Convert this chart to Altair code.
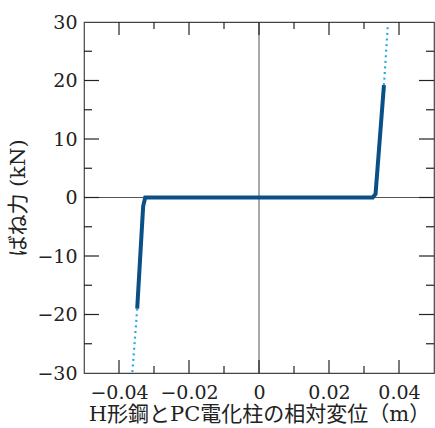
import altair as alt
import pandas as pd

# --- data ---
spring_x = [-0.0348, -0.0331, -0.0325, 0.0000, 0.0325, 0.0333, 0.0357]
spring_y = [-19.0, -1.5, 0.0, 0.0, 0.0, 0.6, 19.2]

ext_series = ["neg", "neg", "pos", "pos"]
ext_x = [-0.0348, -0.0362, 0.0357, 0.0368]
ext_y = [-19.0, -30.0, 19.2, 29.3]

x_major = [-0.04, -0.02, 0.0, 0.02, 0.04]
x_minor = [-0.03, -0.01, 0.01, 0.03]
y_major = [-20, -10, 0, 10, 20]
y_minor = [-25, -15, -5, 5, 15, 25]
y_labels = [-30, -20, -10, 0, 10, 20, 30]

x_title = "H形鋼とPC電化柱の相対変位（m）"
y_title = "ばね力 (kN)"

W, H = 350, 351
FONT = "DejaVu Serif, Noto Sans CJK JP"

spring = pd.DataFrame({"x": spring_x, "y": spring_y, "o": range(len(spring_x))})
ext = pd.DataFrame({"s": ext_series, "x": ext_x, "y": ext_y, "o": range(len(ext_x))})

xs = alt.Scale(domain=[-0.05, 0.05], nice=False, zero=False)
ys = alt.Scale(domain=[-30, 30], nice=False, zero=False)

xaxis = alt.Axis(values=x_major, format="~g", ticks=False, domain=False, grid=False,
                 labelPadding=10, title=x_title, titlePadding=1)
yaxis = alt.Axis(values=y_labels, format="~g", ticks=False, domain=False, grid=False,
                 labelPadding=7, title=y_title, titlePadding=8)

base = alt.Chart(spring).mark_line(color="#0a4f86", strokeWidth=4, clip=True).encode(
    x=alt.X("x:Q", scale=xs, axis=xaxis),
    y=alt.Y("y:Q", scale=ys, axis=yaxis),
    order="o:Q",
)

dotted = alt.Chart(ext).mark_line(color="#2aa9e0", strokeWidth=2.2, strokeDash=[2, 3.6], clip=True).encode(
    x=alt.X("x:Q", scale=xs),
    y=alt.Y("y:Q", scale=ys),
    detail="s:N",
    order="o:Q",
)

zero_v = alt.Chart(pd.DataFrame({"v": [0.0]})).mark_rule(color="#555", strokeWidth=1).encode(
    x=alt.X("v:Q", scale=xs))
zero_h = alt.Chart(pd.DataFrame({"v": [0.0]})).mark_rule(color="#555", strokeWidth=1).encode(
    y=alt.Y("v:Q", scale=ys))

tick_color = "#222"
xmaj = pd.DataFrame({"v": x_major})
xmin = pd.DataFrame({"v": x_minor})
ymaj = pd.DataFrame({"v": y_major})
ymin = pd.DataFrame({"v": y_minor})

def xticks(df, length):
    bot = alt.Chart(df).mark_rule(color=tick_color, strokeWidth=1.2).encode(
        x=alt.X("v:Q", scale=xs), y=alt.value(H), y2=alt.value(H - length))
    top = alt.Chart(df).mark_rule(color=tick_color, strokeWidth=1.2).encode(
        x=alt.X("v:Q", scale=xs), y=alt.value(0), y2=alt.value(length))
    return [bot, top]

def yticks(df, length):
    left = alt.Chart(df).mark_rule(color=tick_color, strokeWidth=1.2).encode(
        y=alt.Y("v:Q", scale=ys), x=alt.value(0), x2=alt.value(length))
    right = alt.Chart(df).mark_rule(color=tick_color, strokeWidth=1.2).encode(
        y=alt.Y("v:Q", scale=ys), x=alt.value(W), x2=alt.value(W - length))
    return [left, right]

layers = [zero_v, zero_h] + xticks(xmaj, 13) + xticks(xmin, 7) + yticks(ymaj, 15) + yticks(ymin, 8) + [dotted, base]

chart = alt.layer(*layers).properties(
    width=W, height=H,
    autosize=alt.AutoSizeParams(type="none"),
    padding={"left": 84, "top": 22, "right": 1, "bottom": 55},
    background="white",
).configure_view(
    stroke="#444", strokeWidth=1.2
).configure_axis(
    labelFont=FONT, labelFontSize=19, labelColor="#222",
    titleFont=FONT, titleFontSize=21, titleFontWeight="normal", titleColor="#222",
)

chart.save("out.html", embed_options={"renderer": "svg", "actions": False})
